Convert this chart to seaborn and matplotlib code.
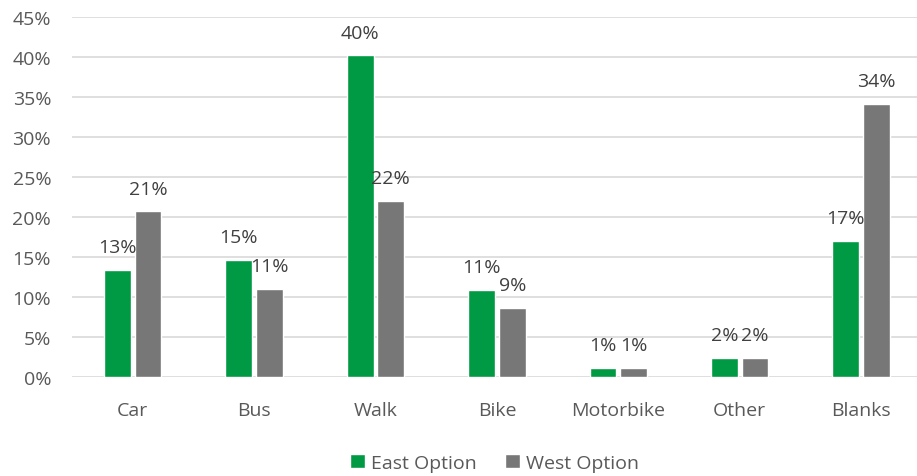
import pandas as pd
import seaborn as sns
import matplotlib.pyplot as plt
from matplotlib.ticker import PercentFormatter

# Travel mode share per option
modes = ["Car", "Bus", "Walk", "Bike", "Motorbike", "Other", "Blanks"]
east_option = [0.134, 0.146, 0.402, 0.109, 0.011, 0.024, 0.170]
west_option = [0.207, 0.110, 0.220, 0.086, 0.011, 0.024, 0.341]
series_names = ["East Option", "West Option"]
colors = ["#009A44", "#777777"]
y_ticks = [0.00, 0.05, 0.10, 0.15, 0.20, 0.25, 0.30, 0.35, 0.40, 0.45]


def build_frame():
    '''
    Long-form frame for seaborn: one row per mode and option.
    '''
    east = pd.DataFrame({"Mode": modes, "Share": east_option,
                         "Option": series_names[0]})
    west = pd.DataFrame({"Mode": modes, "Share": west_option,
                         "Option": series_names[1]})
    return pd.concat([east, west], ignore_index=True)


def main():
    df = build_frame()
    sns.set_theme(style="white")
    plt.rcParams["font.family"] = ["Open Sans", "DejaVu Sans"]

    fig = plt.figure(figsize=(9.17, 4.77), dpi=100)
    ax = fig.add_axes([72 / 917, 99 / 477, (917 - 72) / 917, 360 / 477])

    sns.barplot(data=df, x="Mode", y="Share", hue="Option", order=modes,
                hue_order=series_names, palette=colors, width=0.504,
                gap=0.125, saturation=1, ax=ax, legend=True)

    # Data labels above each bar, like Excel "outside end"
    for container in ax.containers:
        ax.bar_label(container, labels=[f"{v * 100:.0f}%" for v in container.datavalues],
                     padding=10, fontsize=14, color="#404040")

    ax.set_ylim(0, 0.45)
    ax.set_xlim(-0.5, 6.46)
    ax.set_yticks(y_ticks)
    ax.yaxis.set_major_formatter(PercentFormatter(1.0, decimals=0))
    ax.grid(axis="y", color="#D9D9D9", linewidth=1.2)
    ax.set_axisbelow(True)
    for side in ["top", "right", "left", "bottom"]:
        ax.spines[side].set_visible(False)
    ax.set_xlabel("")
    ax.set_ylabel("")
    ax.tick_params(axis="both", length=0, labelsize=14, labelcolor="#595959")
    ax.tick_params(axis="x", pad=17)
    ax.tick_params(axis="y", pad=15)

    ax.legend(loc="center", bbox_to_anchor=(0.5, -86 / 360),
              ncol=2, frameon=False, fontsize=14, handlelength=0.75,
              handleheight=0.75, handletextpad=0.3, columnspacing=1.5,
              labelcolor="#595959")

    fig.savefig("out.png", dpi=100)


if __name__ == "__main__":
    main()
